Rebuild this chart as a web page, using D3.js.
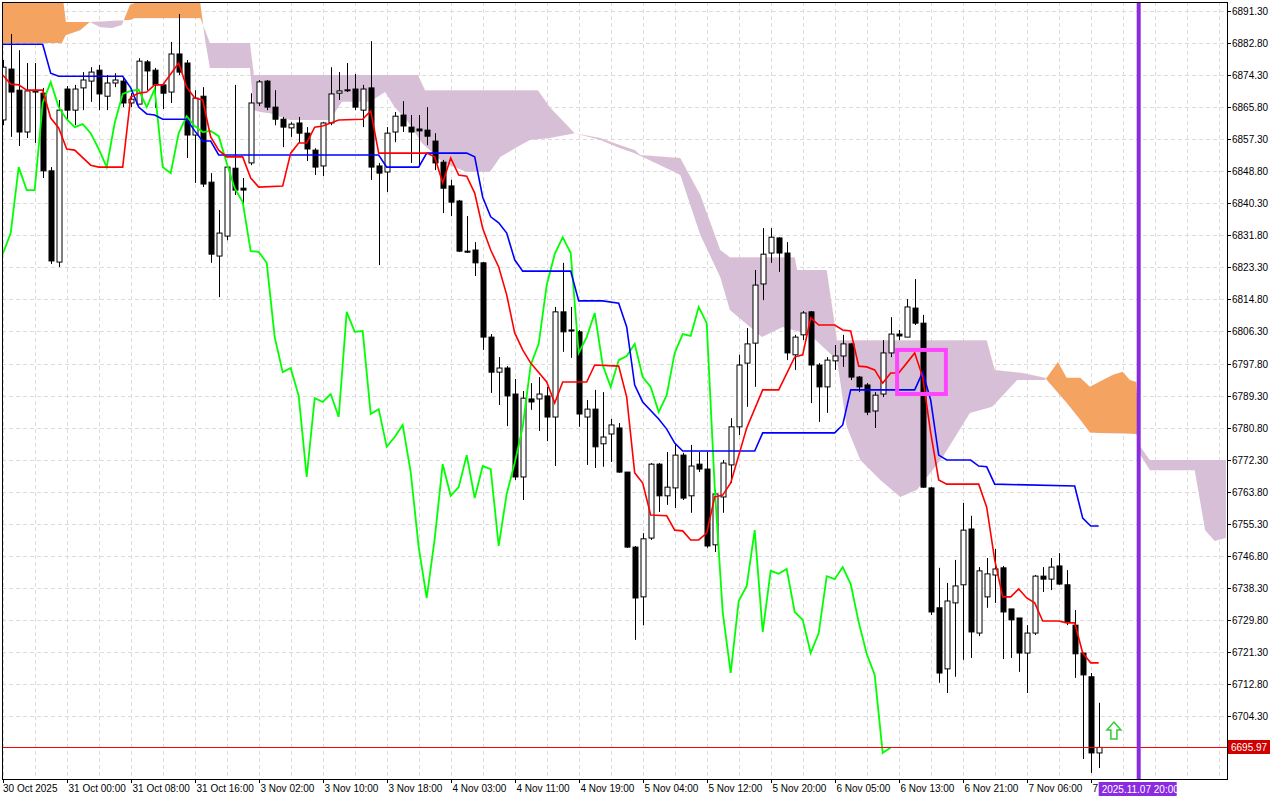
<!DOCTYPE html>
<html><head><meta charset="utf-8">
<script src="https://cdn.jsdelivr.net/npm/d3@7"></script>
<style>body{margin:0;background:#fff}svg{display:block}text{font-family:"Liberation Sans",Arial,sans-serif;font-size:10px}</style>
</head><body><svg id="c" width="1280" height="800"></svg>
<script>
// OHLC candles, 1h bars [open, high, low, close]
const candles = [
[6862.4,6878.3,6861.0,6876.4],[6875.9,6885.2,6857.9,6869.8],[6870.3,6880.9,6855.5,6859.2],[6859.2,6877.5,6857.6,6870.1],
[6869.8,6877.5,6856.3,6870.1],[6869.5,6870.9,6847.0,6848.9],[6848.9,6849.9,6824.2,6825.0],[6824.7,6867.7,6823.4,6865.0],
[6870.6,6871.4,6862.4,6865.0],[6865.0,6871.7,6861.0,6870.6],[6870.9,6875.1,6865.0,6873.0],[6872.7,6876.4,6867.2,6875.1],
[6875.6,6877.0,6865.0,6869.3],[6868.7,6874.3,6865.0,6872.2],[6872.2,6874.8,6871.1,6873.0],[6872.7,6873.8,6865.8,6866.9],
[6866.9,6869.5,6865.8,6867.9],[6866.6,6878.8,6866.6,6878.0],[6877.8,6878.3,6870.3,6875.4],[6875.6,6876.2,6865.6,6871.7],
[6871.7,6872.2,6865.3,6869.5],[6869.8,6883.1,6866.9,6879.9],[6879.9,6890.5,6874.3,6875.1],[6877.5,6878.3,6852.3,6858.4],
[6858.4,6870.3,6845.7,6868.2],[6868.7,6871.1,6844.6,6845.4],[6845.9,6848.3,6824.5,6826.8],[6826.3,6838.5,6815.4,6832.4],
[6831.6,6850.4,6830.5,6849.9],[6849.6,6871.7,6842.5,6843.8],[6844.3,6847.0,6838.5,6843.8],[6851.0,6869.5,6850.4,6866.9],
[6866.9,6873.0,6866.1,6872.5],[6872.7,6873.0,6865.0,6865.8],[6865.8,6870.3,6861.0,6862.6],[6862.6,6863.2,6855.2,6860.5],
[6860.3,6861.8,6857.9,6861.3],[6861.6,6863.2,6856.3,6858.9],[6858.9,6860.5,6851.5,6854.7],[6854.4,6854.9,6847.8,6849.9],
[6850.2,6861.8,6847.5,6861.6],[6861.6,6876.4,6861.0,6869.3],[6869.5,6875.1,6867.7,6870.1],[6870.3,6877.5,6869.8,6870.4],
[6870.6,6874.6,6865.0,6865.8],[6865.0,6871.7,6860.5,6870.6],[6870.9,6883.3,6846.5,6849.9],[6850.2,6851.0,6823.9,6848.3],
[6848.6,6860.5,6843.3,6858.9],[6859.2,6864.5,6856.5,6863.4],[6863.7,6867.4,6859.2,6860.8],[6860.5,6863.7,6851.0,6859.2],
[6860.0,6863.7,6849.9,6859.5],[6859.7,6865.8,6855.7,6858.1],[6856.8,6858.9,6849.1,6851.0],[6851.2,6851.8,6837.7,6844.3],
[6844.9,6846.5,6836.9,6840.6],[6840.9,6841.2,6827.4,6827.6],[6827.6,6836.9,6827.1,6827.4],[6827.9,6830.0,6821.0,6824.5],
[6824.5,6824.7,6801.4,6804.8],[6804.8,6805.6,6790.0,6795.5],[6795.5,6799.5,6786.8,6796.6],[6796.6,6797.1,6781.2,6789.2],
[6789.7,6793.7,6766.9,6767.7],[6767.7,6790.5,6761.6,6788.6],[6788.4,6792.6,6785.5,6787.6],[6788.4,6794.2,6779.9,6789.7],
[6789.2,6791.6,6777.2,6783.6],[6783.6,6812.8,6770.6,6811.5],[6811.5,6824.5,6800.9,6806.2],[6806.7,6812.8,6799.3,6806.4],
[6806.2,6806.7,6781.0,6784.4],[6783.6,6788.1,6770.9,6785.7],[6785.7,6790.8,6770.1,6775.7],[6776.5,6790.2,6770.4,6778.3],
[6779.1,6783.1,6771.7,6781.5],[6780.7,6782.0,6768.8,6769.0],[6769.0,6769.0,6748.9,6749.1],[6749.1,6749.4,6724.5,6735.6],
[6735.9,6752.8,6728.4,6751.3],[6751.5,6771.4,6751.0,6771.1],[6771.1,6771.4,6758.4,6762.7],[6762.7,6774.3,6760.3,6765.0],
[6764.8,6776.7,6759.5,6773.5],[6773.5,6774.1,6761.6,6762.1],[6762.7,6776.2,6758.2,6770.6],[6771.1,6774.3,6769.0,6769.8],
[6769.8,6774.3,6748.9,6749.4],[6749.7,6764.3,6747.8,6763.2],[6762.4,6772.2,6758.2,6771.4],[6770.9,6783.3,6766.1,6781.0],
[6781.0,6800.1,6778.8,6797.4],[6797.9,6807.2,6786.3,6803.0],[6803.2,6822.6,6791.6,6818.6],[6818.9,6833.7,6814.6,6826.8],
[6827.1,6833.7,6824.5,6831.3],[6831.1,6831.3,6822.1,6827.1],[6827.1,6830.0,6798.7,6800.6],[6800.1,6805.4,6796.1,6804.8],
[6805.4,6811.7,6804.0,6811.2],[6811.5,6811.7,6787.3,6797.4],[6797.4,6797.9,6782.3,6791.6],[6791.6,6799.5,6784.7,6798.7],
[6798.5,6802.7,6796.1,6799.8],[6799.8,6805.4,6796.9,6803.0],[6803.0,6803.2,6793.4,6794.2],[6794.2,6794.5,6790.2,6791.6],
[6792.1,6792.6,6784.1,6784.9],[6785.2,6790.2,6780.7,6789.4],[6789.7,6804.0,6788.9,6800.6],[6800.6,6810.1,6799.5,6805.6],
[6805.6,6806.7,6804.0,6805.1],[6804.8,6814.9,6804.8,6812.8],[6812.5,6820.2,6808.0,6808.5],[6808.5,6810.7,6764.8,6765.0],
[6764.8,6765.0,6731.1,6731.9],[6733.0,6743.6,6713.1,6715.7],[6716.8,6739.6,6710.4,6734.8],[6734.3,6745.7,6714.7,6738.8],
[6739.1,6760.8,6719.2,6753.6],[6753.9,6757.4,6719.7,6726.6],[6726.3,6743.8,6725.5,6742.8],[6735.9,6746.2,6733.0,6742.0],
[6741.7,6748.6,6734.3,6743.3],[6743.6,6744.1,6719.4,6731.9],[6732.7,6732.7,6719.7,6729.8],[6730.3,6730.3,6716.0,6721.0],
[6721.0,6728.4,6710.4,6726.3],[6726.3,6741.7,6725.8,6741.4],[6741.4,6743.8,6737.2,6740.6],[6740.6,6746.2,6737.7,6743.8],
[6744.1,6747.5,6739.1,6739.3],[6739.1,6743.0,6728.4,6729.2],[6728.4,6732.4,6714.4,6720.8],[6721.0,6721.0,6692.9,6715.2],
[6714.7,6715.7,6689.2,6694.5],[6694.5,6707.8,6690.5,6695.97]
];
// Tenkan-sen vertices [bar, price]
const tenkan = [[0,6874.3],[1,6871.9],[2,6871.7],[3,6870.3],[5,6870.3],[6,6862.9],[7,6860.3],[8,6854.7],[9,6854.4],[11,6850.4],[12,6849.9],[15,6849.9],[16,6868.5],[17,6869.5],[18,6869.8],[19,6871.7],[20,6871.7],[22,6877.5],[23,6871.1],[24,6868.2],[25,6867.7],[26,6857.9],[27,6854.4],[28,6852.6],[30,6852.6],[31,6847.0],[32,6844.6],[35,6844.9],[36,6853.6],[37,6856.3],[38,6856.3],[39,6860.5],[40,6860.8],[41,6861.6],[42,6862.4],[45,6862.6],[46,6864.8],[47,6853.6],[53,6853.6],[54,6852.6],[55,6845.7],[56,6852.3],[57,6847.8],[58,6847.5],[59,6843.0],[60,6833.7],[61,6827.9],[62,6823.4],[63,6816.0],[64,6805.9],[65,6801.4],[66,6797.9],[68,6792.9],[69,6787.3],[70,6792.9],[73,6792.9],[74,6797.4],[77,6797.1],[78,6788.9],[79,6768.8],[80,6766.1],[81,6757.6],[83,6757.4],[84,6753.6],[85,6753.4],[86,6751.0],[87,6751.0],[88,6752.8],[89,6762.4],[90,6762.9],[91,6766.1],[93,6780.7],[95,6790.8],[97,6790.8],[99,6799.5],[100,6800.1],[101,6809.9],[102,6808.0],[104,6808.0],[105,6806.7],[106,6806.4],[107,6797.1],[108,6796.9],[109,6796.1],[110,6792.6],[111,6795.3],[112,6795.3],[113,6797.9],[114,6800.6],[115,6794.2],[116,6779.4],[117,6766.9],[118,6765.8],[122,6765.8],[123,6759.7],[124,6745.7],[125,6735.9],[126,6735.9],[127,6738.0],[128,6735.6],[129,6734.3],[130,6729.5],[132,6729.5],[133,6729.0],[134,6729.0],[135,6721.0],[136,6718.4],[137,6718.4]];
// Kijun-sen vertices [bar, price]
const kijun = [[0,6882.5],[5,6882.5],[6,6874.8],[7,6874.0],[15,6874.0],[16,6870.9],[17,6865.8],[18,6864.0],[19,6863.7],[20,6862.6],[23,6862.6],[24,6859.5],[25,6856.8],[26,6856.8],[27,6853.1],[47,6853.1],[48,6849.9],[52,6849.9],[53,6853.6],[58,6853.6],[59,6852.6],[60,6841.9],[61,6836.7],[62,6835.1],[63,6832.4],[64,6825.3],[65,6822.3],[71,6822.3],[72,6814.4],[75,6814.4],[77,6813.8],[78,6807.5],[79,6792.1],[80,6787.6],[82,6783.1],[83,6780.4],[84,6776.7],[85,6774.6],[94,6774.6],[95,6779.4],[104,6779.4],[105,6781.5],[106,6790.8],[114,6790.8],[115,6795.5],[116,6788.1],[117,6773.5],[118,6772.2],[121,6772.2],[122,6770.6],[123,6770.4],[124,6765.8],[134,6765.3],[135,6756.8],[136,6754.7],[137,6754.7]];
// Senkou span A / B vertices (already shifted 26 bars forward) [bar, price]
const spanA = [[0,6896.9],[7.4,6896.9],[7.9,6888.4],[10.9,6888.4],[12.2,6887.0],[13.7,6886.8],[14.9,6887.6],[15.9,6892.9],[16.5,6893.4],[24.7,6893.4],[25.3,6883.6],[25.9,6876.2],[30.9,6876.2],[31.4,6865.0],[32.2,6864.5],[33.4,6864.2],[35.9,6862.4],[40.9,6862.4],[42.4,6867.2],[45.9,6867.2],[47.8,6869.8],[49.0,6865.8],[50.5,6862.4],[52.4,6856.3],[55.0,6851.2],[58.0,6848.6],[60.9,6848.6],[62.2,6852.6],[64.3,6855.2],[65.9,6857.1],[68.4,6857.6],[71.5,6858.9],[74.7,6857.1],[77.2,6854.9],[79.0,6853.6],[82.2,6850.4],[84.7,6847.8],[87.2,6831.9],[89.7,6820.7],[90.9,6812.0],[94.9,6804.8],[97.5,6807.5],[100.9,6805.4],[104.3,6798.7],[105.5,6781.0],[107.2,6772.2],[109.7,6766.9],[112.2,6762.4],[114.3,6764.3],[117.5,6773.0],[120.9,6784.7],[123.7,6786.3],[126.8,6793.4],[130.3,6793.4],[131.9,6798.2],[133.0,6794.0],[134.7,6794.0],[135.9,6791.6],[137.5,6793.4],[138.8,6794.8],[140.0,6795.6],[140.9,6793.4],[141.7,6792.9],[142.2,6773.5],[143.4,6769.5],[149.0,6769.5],[150.3,6753.6],[151.5,6750.7],[152.9,6751.5]];
const spanB = [[0,6882.8],[7.4,6882.8],[7.9,6884.9],[9.7,6886.2],[10.9,6888.4],[15.9,6888.9],[16.5,6889.4],[24.7,6889.4],[25.3,6886.2],[25.9,6882.8],[30.9,6882.8],[31.4,6874.3],[51.9,6874.3],[52.8,6870.3],[66.9,6870.3],[68.4,6865.8],[71.5,6858.9],[74.7,6857.6],[77.2,6855.7],[79.0,6854.4],[79.7,6853.1],[84.7,6852.3],[87.2,6842.5],[89.7,6827.9],[90.9,6826.0],[99.0,6826.0],[99.3,6822.6],[103.0,6822.6],[104.3,6804.0],[123.0,6804.0],[124.0,6796.1],[127.5,6795.3],[130.3,6794.0],[130.5,6793.4],[133.0,6787.3],[134.7,6782.8],[135.9,6779.4],[141.7,6779.1],[142.2,6775.7],[143.4,6772.2],[152.9,6772.2]];
const chikouShift = 26;
const priceTicks = [6891.30,6882.80,6874.30,6865.80,6857.30,6848.80,6840.30,6831.80,6823.30,6814.80,6806.30,6797.80,6789.30,6780.80,6772.30,6763.80,6755.30,6746.80,6738.30,6729.80,6721.30,6712.80,6704.30];
const timeLabels = ["30 Oct 2025","31 Oct 00:00","31 Oct 08:00","31 Oct 16:00","3 Nov 02:00","3 Nov 10:00","3 Nov 18:00","4 Nov 03:00","4 Nov 11:00","4 Nov 19:00","5 Nov 04:00","5 Nov 12:00","5 Nov 20:00","6 Nov 05:00","6 Nov 13:00","6 Nov 21:00","7 Nov 06:00","7"];
const lastPrice = 6695.97;
const vlineBar = 142, vlineLabel = "2025.11.07 20:00";
const markBox = [111.8, 117.9, 6801.4, 6789.7];
const arrowPoint = [138.9, 6700.3];

const svg = d3.select("#c");
const L=2,T=2,R=1227,B=779;
const x = d3.scaleLinear().domain([0,1]).range([2.7,10.7]);
const y = d3.scaleLinear().domain([6891.3,6704.3]).range([11,716]);
svg.append("defs").append("clipPath").attr("id","plot").append("rect").attr("x",L).attr("y",T).attr("width",R-L).attr("height",B-T);
const g = svg.append("g").attr("clip-path","url(#plot)");

// grid
const gridBars = d3.range(0,160,4);
g.selectAll(".gv").data(gridBars).join("line").attr("x1",d=>Math.round(x(d))+.5).attr("x2",d=>Math.round(x(d))+.5).attr("y1",T).attr("y2",B).attr("stroke","#dcdcdc").attr("stroke-dasharray","4,3");
g.selectAll(".gh").data(priceTicks).join("line").attr("x1",L).attr("x2",R).attr("y1",d=>Math.round(y(d))+.5).attr("y2",d=>Math.round(y(d))+.5).attr("stroke","#dcdcdc").attr("stroke-dasharray","4,3");

// cloud
const pt = d=>[x(d[0]),y(d[1])];
const poly = "M"+spanA.map(pt).join("L")+"L"+spanB.slice().reverse().map(pt).join("L")+"Z";
const bPts = spanB.map(pt);
const bl = bPts[0], br = bPts[bPts.length-1];
const defs = svg.select("defs");
defs.append("clipPath").attr("id","aboveB").append("path").attr("d","M"+(bl[0]-50)+","+bl[1]+"L"+bPts.join("L")+"L"+(br[0]+200)+","+br[1]+"L"+(br[0]+200)+",-2000L"+(bl[0]-50)+",-2000Z");
defs.append("clipPath").attr("id","belowB").append("path").attr("d","M"+(bl[0]-50)+","+bl[1]+"L"+bPts.join("L")+"L"+(br[0]+200)+","+br[1]+"L"+(br[0]+200)+",3000L"+(bl[0]-50)+",3000Z");
g.append("g").attr("clip-path","url(#aboveB)").append("path").attr("d",poly).attr("fill","#f4a460");
g.append("g").attr("clip-path","url(#belowB)").append("path").attr("d",poly).attr("fill","#d8bfd8");

// candles
const cg = g.append("g");
candles.forEach((c,i)=>{
  const [o,h,l,cl]=c, xc=Math.round(x(i))+.5, up=cl>=o;
  cg.append("line").attr("x1",xc).attr("x2",xc).attr("y1",y(h)).attr("y2",y(l)).attr("stroke","#000");
  const t=y(Math.max(o,cl)), b=y(Math.min(o,cl));
  cg.append("rect").attr("x",xc-2.5).attr("y",t).attr("width",5).attr("height",Math.max(1,b-t)).attr("fill",up?"#fff":"#000").attr("stroke","#000").attr("stroke-width",1);
});

// lines
const line = d3.line().x(d=>x(d[0])).y(d=>y(d[1]));
const chikou = candles.slice(chikouShift).map((c,i)=>[i,c[3]]);
g.append("path").attr("d",line(chikou)).attr("fill","none").attr("stroke","#00ff00").attr("stroke-width",1.8);
g.append("path").attr("d",line(kijun)).attr("fill","none").attr("stroke","#0000ff").attr("stroke-width",1.6);
g.append("path").attr("d",line(tenkan)).attr("fill","none").attr("stroke","#ff0000").attr("stroke-width",1.6);

// last price line
g.append("line").attr("x1",L).attr("x2",R).attr("y1",Math.round(y(lastPrice))+.5).attr("y2",Math.round(y(lastPrice))+.5).attr("stroke","#ff0000").attr("stroke-width",1);
// magenta box
g.append("rect").attr("x",x(markBox[0])).attr("y",y(markBox[2])).attr("width",x(markBox[1])-x(markBox[0])).attr("height",y(markBox[3])-y(markBox[2])).attr("fill","none").attr("stroke","#ff44ff").attr("stroke-width",4);
// up arrow
const ax=x(arrowPoint[0]), ay=y(arrowPoint[1]);
g.append("path").attr("d",`M${ax},${ay-9}L${ax+7},${ay-1}L${ax+3},${ay-1}L${ax+3},${ay+8}L${ax-3},${ay+8}L${ax-3},${ay-1}L${ax-7},${ay-1}Z`).attr("fill","#fff").attr("stroke","#32cd32").attr("stroke-width",1.5);
// vertical line
g.append("line").attr("x1",x(vlineBar)).attr("x2",x(vlineBar)).attr("y1",T).attr("y2",B).attr("stroke","#8a2be2").attr("stroke-width",4);

// frame
svg.append("rect").attr("x",L+.5).attr("y",T+.5).attr("width",R-L).attr("height",B-T).attr("fill","none").attr("stroke","#000");

// price axis
priceTicks.forEach(p=>{
  const yy=Math.round(y(p))+.5;
  svg.append("line").attr("x1",R).attr("x2",R+4).attr("y1",yy).attr("y2",yy).attr("stroke","#000");
  svg.append("text").attr("x",R+5).attr("y",yy+3.5).text(p.toFixed(2));
});
const ly=Math.round(y(lastPrice));
svg.append("rect").attr("x",R+1).attr("y",ly-7).attr("width",42).attr("height",14).attr("fill","#d00000");
svg.append("text").attr("x",R+4).attr("y",ly+4).attr("fill","#fff").text(lastPrice.toFixed(2));

// time axis
timeLabels.forEach((t,k)=>{
  const xx=Math.round(x(k*8))+.5;
  svg.append("line").attr("x1",xx).attr("x2",xx).attr("y1",B).attr("y2",B+4).attr("stroke","#000");
  svg.append("text").attr("x",k===0?L+1:xx+1).attr("y",B+13).text(t);
});
const vx=x(vlineBar);
svg.append("rect").attr("x",vx-40).attr("y",B+3).attr("width",78).attr("height",14).attr("fill","#8a2be2");
svg.append("text").attr("x",vx-37).attr("y",B+14).attr("fill","#fff").text(vlineLabel);
</script></body></html>
